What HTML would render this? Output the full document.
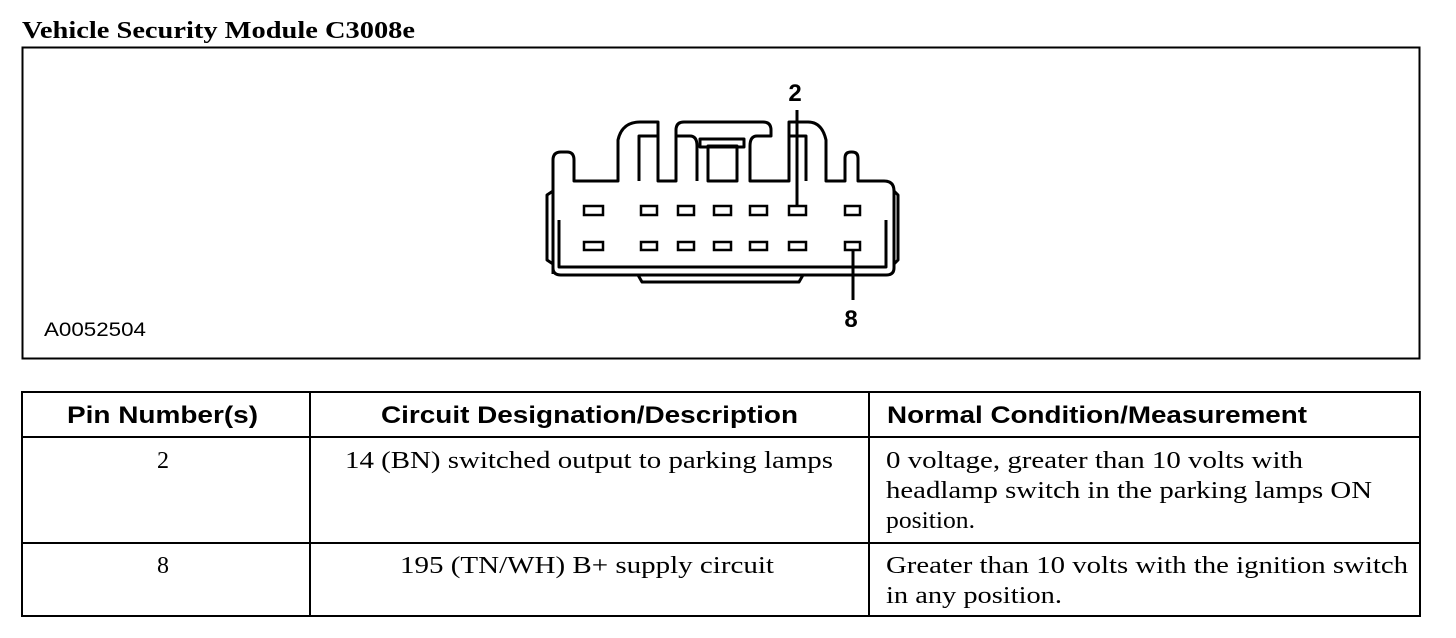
<!DOCTYPE html>
<html><head><meta charset="utf-8"><style>
body{margin:0;background:#fff;}
svg{display:block}
.s{font-family:"Liberation Serif",serif;font-size:24px;fill:#000}
.h{font-family:"Liberation Sans",sans-serif;font-weight:bold;font-size:24px;fill:#000}
</style></head><body>
<svg width="1456" height="638" viewBox="0 0 1456 638">
<text x="22" y="38" font-family="Liberation Serif" font-weight="bold" font-size="24" textLength="393" lengthAdjust="spacingAndGlyphs">Vehicle Security Module C3008e</text>
<rect x="22.5" y="47.5" width="1397" height="311" fill="none" stroke="#000" stroke-width="2"/>
<text x="44" y="336" font-family="Liberation Sans" font-size="19" textLength="102" lengthAdjust="spacingAndGlyphs">A0052504</text>
<g fill="none" stroke="#000" stroke-width="3" stroke-linejoin="round">
<path d="M553,274 L553,160 Q553,152 561,152 L567,152 Q574,152 574,160 L574,181 L618,181 L618,140 Q622,122 640,122 L658,122 L658,181 L676,181 L676,130 Q676,122 684,122 L763,122 Q771,122 771,130 L771,136 L757,136 Q750,136 750,146 L750,181 L789,181 L789,122 L808,122 Q822,122 826,140 L826,181 L845,181 L845,158 Q845,152 851,152 L852,152 Q858,152 858,158 L858,181 L884,181 Q894,181 894,191 L894,268 Q894,275 886,275 L561,275 Q553,275 553,268"/>
<path d="M676,136 L690,136 Q697,136 697,146 L697,181"/>
<path d="M639,181 L639,136 L658,136"/>
<path d="M789,136 L806,136 L806,181"/>
<rect x="708" y="146" width="29" height="35"/>
<rect x="700" y="139" width="44" height="8"/>
<path d="M553,191 L547,195 L547,260 L553,264"/>
<path d="M894,191 L898,195 L898,260 L894,264"/>
<path d="M559,220 L559,267 L886,267 L886,220"/>
<path d="M638,275 L642,282 L799,282 L803,275"/>
</g>
<g fill="#fff" stroke="#000" stroke-width="2.5">
<rect x="584" y="206" width="19" height="9"/><rect x="641" y="206" width="16" height="9"/><rect x="678" y="206" width="16" height="9"/><rect x="714" y="206" width="17" height="9"/><rect x="750" y="206" width="17" height="9"/><rect x="789" y="206" width="17" height="9"/><rect x="845" y="206" width="15" height="9"/>
<rect x="584" y="242" width="19" height="8"/><rect x="641" y="242" width="16" height="8"/><rect x="678" y="242" width="16" height="8"/><rect x="714" y="242" width="17" height="8"/><rect x="750" y="242" width="17" height="8"/><rect x="789" y="242" width="17" height="8"/><rect x="845" y="242" width="15" height="8"/>
</g>
<line x1="797" y1="110" x2="797" y2="206" stroke="#000" stroke-width="3"/>
<line x1="853" y1="250" x2="853" y2="300" stroke="#000" stroke-width="3"/>
<text x="795" y="101" text-anchor="middle" class="h" font-size="22">2</text>
<text x="851" y="327" text-anchor="middle" class="h" font-size="22">8</text>
<g stroke="#000" stroke-width="2" fill="none">
<rect x="22" y="392" width="1398" height="224"/>
<line x1="22" y1="437" x2="1420" y2="437"/>
<line x1="22" y1="543" x2="1420" y2="543"/>
<line x1="310" y1="392" x2="310" y2="616"/>
<line x1="869" y1="392" x2="869" y2="616"/>
</g>
<text x="67" y="423" class="h" textLength="191" lengthAdjust="spacingAndGlyphs">Pin Number(s)</text>
<text x="381" y="423" class="h" textLength="417" lengthAdjust="spacingAndGlyphs">Circuit Designation/Description</text>
<text x="887" y="423" class="h" textLength="420" lengthAdjust="spacingAndGlyphs">Normal Condition/Measurement</text>
<text x="163" y="468" text-anchor="middle" class="s">2</text>
<text x="345" y="468" class="s" textLength="488" lengthAdjust="spacingAndGlyphs">14 (BN) switched output to parking lamps</text>
<text x="886" y="468" class="s" textLength="417" lengthAdjust="spacingAndGlyphs">0 voltage, greater than 10 volts with</text>
<text x="886" y="498" class="s" textLength="486" lengthAdjust="spacingAndGlyphs">headlamp switch in the parking lamps ON</text>
<text x="886" y="528" class="s" textLength="89" lengthAdjust="spacingAndGlyphs">position.</text>
<text x="163" y="573" text-anchor="middle" class="s">8</text>
<text x="400" y="573" class="s" textLength="374" lengthAdjust="spacingAndGlyphs">195 (TN/WH) B+ supply circuit</text>
<text x="886" y="573" class="s" textLength="522" lengthAdjust="spacingAndGlyphs">Greater than 10 volts with the ignition switch</text>
<text x="886" y="603" class="s" textLength="176" lengthAdjust="spacingAndGlyphs">in any position.</text>
</svg>
</body></html>
